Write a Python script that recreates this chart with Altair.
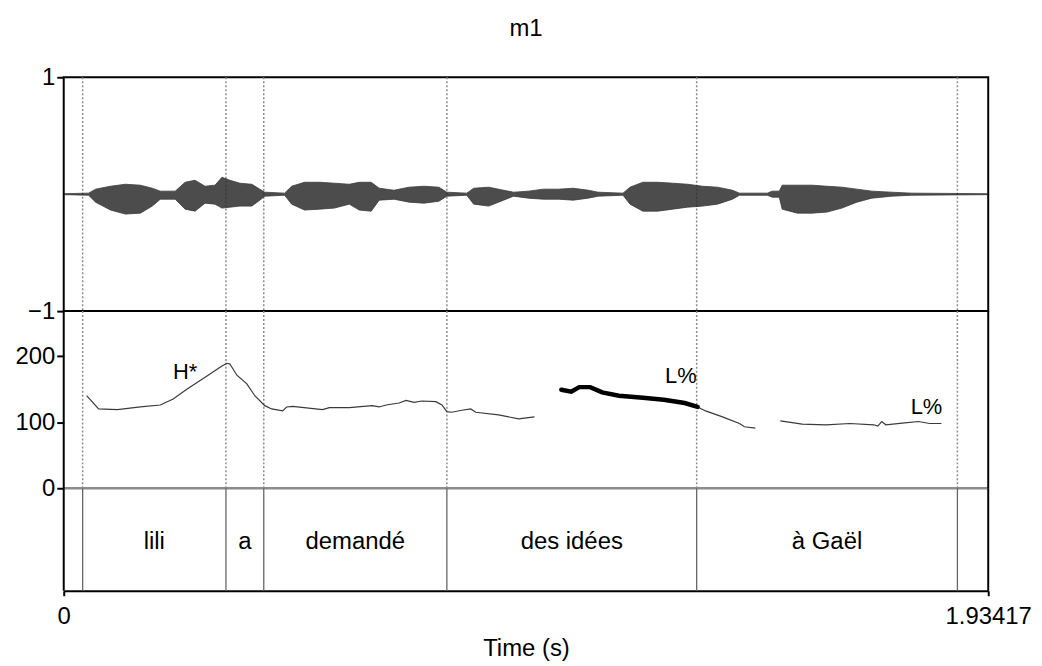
import altair as alt
import pandas as pd

FONT = "Liberation Sans"
FS = 24
T_END = 1.93417

# Text grid boundaries (s) and interval labels
boundaries = [0.0396, 0.3394, 0.4185, 0.8016, 1.3242, 1.8697]
words = ["lili", "a", "demandé", "des idées", "à Gaël"]

# Waveform envelope: time, upper and lower amplitude
wave_t = [0.0, 0.052, 0.0666, 0.0979, 0.1291, 0.1603, 0.1853, 0.2020, 0.2332, 0.2540,
          0.2748, 0.2956, 0.3165, 0.3310, 0.3477, 0.3685, 0.3935, 0.4102, 0.4206, 0.4622,
          0.4768, 0.5039, 0.5351, 0.5663, 0.5975, 0.6184, 0.6433, 0.6600, 0.6912, 0.7225,
          0.7537, 0.7849, 0.8016, 0.8432, 0.8578, 0.8890, 0.9203, 0.9411, 0.9723, 1.0035,
          1.0348, 1.0660, 1.0972, 1.1181, 1.1701, 1.1847, 1.2117, 1.2430, 1.2742, 1.3054,
          1.3367, 1.3679, 1.3991, 1.4137, 1.4720, 1.4824, 1.4970, 1.5032, 1.5345, 1.5657,
          1.5969, 1.6281, 1.6594, 1.6906, 1.7322, 1.7739, 1.93417]
wave_hi = [0.004, 0.009, 0.043, 0.068, 0.085, 0.077, 0.051, 0.026, 0.026, 0.102,
           0.119, 0.068, 0.077, 0.145, 0.119, 0.094, 0.085, 0.043, 0.017, 0.009,
           0.068, 0.102, 0.102, 0.094, 0.085, 0.102, 0.102, 0.051, 0.034, 0.060,
           0.068, 0.060, 0.017, 0.009, 0.051, 0.060, 0.034, 0.017, 0.026, 0.043,
           0.043, 0.051, 0.034, 0.017, 0.009, 0.060, 0.102, 0.102, 0.094, 0.085,
           0.068, 0.060, 0.034, 0.009, 0.009, 0.026, 0.026, 0.077, 0.077, 0.077,
           0.068, 0.060, 0.043, 0.026, 0.017, 0.009, 0.004]
wave_lo = [-0.004, -0.009, -0.068, -0.136, -0.170, -0.162, -0.102, -0.043, -0.043, -0.128,
           -0.145, -0.077, -0.085, -0.119, -0.111, -0.102, -0.102, -0.051, -0.017, -0.009,
           -0.085, -0.136, -0.128, -0.119, -0.085, -0.136, -0.145, -0.051, -0.043, -0.068,
           -0.077, -0.060, -0.017, -0.009, -0.085, -0.102, -0.051, -0.017, -0.034, -0.043,
           -0.043, -0.051, -0.034, -0.017, -0.009, -0.085, -0.145, -0.145, -0.128, -0.111,
           -0.102, -0.085, -0.043, -0.009, -0.009, -0.026, -0.026, -0.128, -0.162, -0.162,
           -0.153, -0.119, -0.068, -0.034, -0.017, -0.009, -0.004]

# Pitch contour (Hz), thin line, split into voiced segments
pitch_t = [0.0479, 0.0729, 0.1124, 0.1603, 0.2020, 0.2290, 0.2582, 0.2998, 0.3310, 0.3414,
           0.3477, 0.3623, 0.3831, 0.3998, 0.4206, 0.4351, 0.4580, 0.4664, 0.4789, 0.5413,
           0.5559, 0.5976, 0.6454, 0.6600, 0.6746, 0.7016, 0.7162, 0.7329, 0.7495, 0.7787,
           0.7912, 0.8016, 0.8120, 0.8328, 0.8515, 0.8620, 0.9098, 0.9515, 0.9848,
           1.3262, 1.3429, 1.3783, 1.4137, 1.4241, 1.4470,
           1.4991, 1.5449, 1.5948, 1.6448, 1.6948, 1.7031, 1.7114, 1.7198, 1.7593, 1.7884,
           1.8113, 1.8363]
pitch_hz = [140, 120, 119, 123, 126, 135, 150, 170, 185, 189,
            188, 171, 158, 140, 125, 120, 117, 123, 124, 119,
            122, 122, 125, 123, 126, 129, 133, 130, 132, 131,
            126, 116, 115, 118, 120, 115, 111, 105, 108,
            123, 117, 108, 98, 93, 91,
            102, 97, 96, 98, 96, 94, 101, 96, 99, 101,
            98, 98]
pitch_seg = [1] * 39 + [2] * 6 + [3] * 12

# Highlighted (bold) stretch of the contour
bold_t = [1.0410, 1.0618, 1.0785, 1.1014, 1.1264, 1.1618, 1.2117, 1.2555, 1.2992, 1.3262]
bold_hz = [149, 146, 153, 153, 145, 140, 137, 134, 129, 123]

# Tone labels
tone_t = [0.254, 1.291, 1.805]
tone_hz = [176, 170, 123]
tone_txt = ["H*", "L%", "L%"]

wave_df = pd.DataFrame({"t": wave_t, "hi": wave_hi, "lo": wave_lo})
pitch_df = pd.DataFrame({"t": pitch_t, "hz": pitch_hz, "seg": pitch_seg})
bold_df = pd.DataFrame({"t": bold_t, "hz": bold_hz})
tone_df = pd.DataFrame({"t": tone_t, "hz": tone_hz, "txt": tone_txt})
bnd_df = pd.DataFrame({"t": boundaries})
word_df = pd.DataFrame({"start": boundaries[:-1], "end": boundaries[1:], "word": words})
one = pd.DataFrame({"k": [0]})

xs = alt.Scale(domain=[0, T_END], nice=False, zero=False)
W = 929

yaxis_common = dict(title=None, grid=False, domain=False, ticks=True, tickColor="black",
                    tickWidth=2, tickSize=7, labelFont=FONT, labelFontSize=FS,
                    labelColor="black", labelFlush=False, labelPadding=2)

# ---- Waveform panel
wave = alt.Chart(wave_df).mark_area(color="#262626", opacity=0.82, interpolate="linear",
                                    stroke="#111111", strokeWidth=0.8).encode(
    x=alt.X("t:Q", scale=xs, axis=None),
    y=alt.Y("hi:Q", scale=alt.Scale(domain=[-1, 1], nice=False),
            axis=alt.Axis(values=[-1, 1], **yaxis_common)),
    y2="lo:Q",
)
dots_top = alt.Chart(bnd_df).mark_rule(color="#8a8a8a", strokeDash=[2, 2], strokeWidth=1.5).encode(
    x=alt.X("t:Q", scale=xs, axis=None)
)
top = alt.layer(dots_top, wave).properties(
    width=W, height=235,
    title=alt.TitleParams("m1", font=FONT, fontSize=FS, fontWeight="normal", color="black",
                          anchor="middle", frame="group", offset=24),
    view=alt.ViewBackground(stroke="black", strokeWidth=2),
)

# ---- Pitch panel
yp = alt.Scale(domain=[0, 268], nice=False)
dots_mid = alt.Chart(bnd_df).mark_rule(color="#8a8a8a", strokeDash=[2, 2], strokeWidth=1.5).encode(
    x=alt.X("t:Q", scale=xs, axis=None)
)
zero_line = alt.Chart(one).mark_rule(color="#8c8c8c", strokeWidth=2.5).encode(y=alt.datum(0))
pitch_line = alt.Chart(pitch_df).mark_line(color="#3a3a3a", strokeWidth=1.2).encode(
    x=alt.X("t:Q", scale=xs, axis=None),
    y=alt.Y("hz:Q", scale=yp, axis=alt.Axis(values=[0, 100, 200], **yaxis_common)),
    detail="seg:N",
)
bold_line = alt.Chart(bold_df).mark_line(color="black", strokeWidth=4.5, strokeCap="round").encode(
    x=alt.X("t:Q", scale=xs, axis=None), y=alt.Y("hz:Q", scale=yp)
)
tones = alt.Chart(tone_df).mark_text(font=FONT, fontSize=22, color="black", align="center",
                                     baseline="middle").encode(
    x=alt.X("t:Q", scale=xs, axis=None), y=alt.Y("hz:Q", scale=yp), text="txt:N"
)
left_p = alt.Chart(one).mark_rule(color="black", strokeWidth=2).encode(
    x=alt.X(datum=0, scale=xs, axis=None))
right_p = alt.Chart(one).mark_rule(color="black", strokeWidth=2).encode(
    x=alt.X(datum=T_END, scale=xs, axis=None))
pitch = alt.layer(dots_mid, zero_line, pitch_line, bold_line, tones, left_p, right_p).properties(
    width=W, height=178
)

# ---- Text grid panel
bottom_axis = alt.Axis(values=[0, T_END], format=".6~g", title="Time (s)", grid=False,
                       domain=True, domainColor="black", domainWidth=2, ticks=True,
                       tickColor="black", tickWidth=2, tickSize=5, labelFont=FONT,
                       labelFontSize=FS, labelColor="black", labelFlush=False, labelPadding=9,
                       titleFont=FONT, titleFontSize=FS, titleFontWeight="normal",
                       titleColor="black", titlePadding=8)
tg_lines = alt.Chart(bnd_df).mark_rule(color="#666666", strokeWidth=1.3).encode(
    x=alt.X("t:Q", scale=xs, axis=bottom_axis, title="Time (s)")
)
tg_text = alt.Chart(word_df).transform_calculate(mid="(datum.start + datum.end) / 2").mark_text(
    font=FONT, fontSize=FS, color="black", align="center", baseline="middle"
).encode(
    x=alt.X("mid:Q", scale=xs, axis=bottom_axis, title="Time (s)"),
    y=alt.Y(datum=0.48, scale=alt.Scale(domain=[0, 1]), axis=None),
    text="word:N",
)
left_t = alt.Chart(one).mark_rule(color="black", strokeWidth=2).encode(
    x=alt.X(datum=0, scale=xs, axis=bottom_axis, title="Time (s)"))
right_t = alt.Chart(one).mark_rule(color="black", strokeWidth=2).encode(
    x=alt.X(datum=T_END, scale=xs, axis=bottom_axis, title="Time (s)"))
tg = alt.layer(tg_lines, tg_text, left_t, right_t).properties(width=W, height=103)

chart = alt.vconcat(top, pitch, tg, spacing=0, bounds="flush").properties(
    padding={"left": 6, "top": 7, "right": 2, "bottom": 1}
).configure_view(stroke=None)

chart.save("out.html", embed_options={"renderer": "svg", "actions": False})
